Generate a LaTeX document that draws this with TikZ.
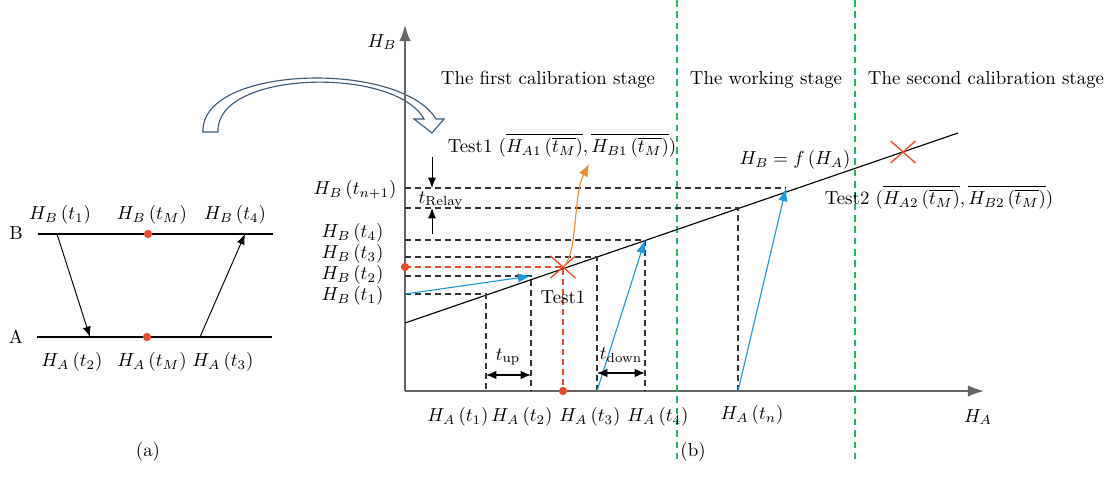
\documentclass[tikz,border=0pt]{standalone}
\usepackage{amsmath, amssymb}
\usepackage{xcolor}
\usetikzlibrary{arrows.meta, shapes.misc}

\definecolor{redpt}{HTML}{EE4B2B}
\definecolor{blueln}{HTML}{1E9AD8}
\definecolor{greenln}{HTML}{22B562}
\definecolor{orangeln}{HTML}{F28A30}
\definecolor{hollow}{HTML}{3B5B78}

\begin{document}
\begin{tikzpicture}[x=0.53pt, y=-0.53pt,
  dashline/.style={dashed, dash pattern=on 3.2pt off 2.1pt, line width=0.55pt, draw=black!80},
  reddash/.style={dashline, draw=redpt},
  stagediv/.style={dash pattern=on 3.5pt off 2.5pt, line width=0.7pt, draw=greenln},
  axis/.style={line width=0.8pt, draw=black!60, -{Latex[length=8.5pt,width=6pt]}},
  blueline/.style={draw=blueln, line width=0.6pt, -{Latex[length=7pt,width=5pt]}},
  blackline/.style={line width=0.5pt, -{Latex[length=5.5pt,width=4.3pt]}},
  timearrow/.style={line width=0.6pt, {Latex[length=5.5pt,width=4.5pt]}-{Latex[length=5.5pt,width=4.5pt]}},
  reddot/.style={circle, fill=redpt, inner sep=0pt, minimum size=4.4pt},
  redcross/.style={cross out, draw=redpt, line width=0.7pt, inner sep=0pt, minimum width=12.5pt, minimum height=11pt}]
\useasboundingbox (0,0) rectangle (1114,494);

% (a) two sensors
\coordinate (b1) at (38,234);
\coordinate (b2) at (273,234);
\coordinate (a1) at (37,337);
\coordinate (a2) at (272,337);
\draw[line width=0.6pt] (b1) -- (b2);
\draw[line width=0.6pt] (a1) -- (a2);
\node (lblB) at (16,233) {B};
\node (lblA) at (16,337) {A};
\node[reddot] (bm) at (148,234) {};
\node[reddot] (am) at (147,337) {};
\coordinate (bs) at (57,234);
\coordinate (ae) at (90,337);
\coordinate (as) at (200,337);
\coordinate (be) at (245,234);
\draw[blackline] (bs) -- (ae);
\draw[blackline] (as) -- (be);
\node (hb1) at (60,215) {$H_B\,(t_1)$};
\node (hbm) at (152,215) {$H_B\,(t_M)$};
\node (hb4) at (235,215) {$H_B\,(t_4)$};
\node (ha2) at (72,362) {$H_A\,(t_2)$};
\node (ham) at (152,362) {$H_A\,(t_M)$};
\node (ha3) at (223,362) {$H_A\,(t_3)$};
\node (capa) at (148,452) {(a)};

% hollow arrow from (a) to (b)
\draw[draw=hollow, fill=white, line width=0.6pt]
  (203,132) .. controls (200,65) and (400,60) .. (436,119) -- (444,119) -- (432,133)
  -- (414,119) -- (424,119) .. controls (395,66) and (215,70) .. (218,132) -- cycle;

% (b) axes
\coordinate (o) at (405,391);
\coordinate (ytip) at (405,25);
\coordinate (xtip) at (984,391);
\draw[axis] (o) -- (ytip);
\draw[axis] (o) -- (xtip);
\node (axb) at (382,42) {$H_B$};
\node (axa) at (978,417) {$H_A$};

% stage borders
\coordinate (g1t) at (677,0);
\coordinate (g1b) at (677,460);
\coordinate (g2t) at (855,0);
\coordinate (g2b) at (855,460);
\draw[stagediv] (g1t) -- (g1b);
\draw[stagediv] (g2t) -- (g2b);
\node (st1) at (548,80) {The first calibration stage};
\node (st2) at (766,80) {The working stage};
\node (st3) at (986,80) {The second calibration stage};

% calibration line
\coordinate (f0) at (405,323);
\coordinate (f1) at (958,133);
\draw[line width=0.6pt] (f0) -- (f1);
\node (fn) at (795,160) {$H_B = f\,(H_A)$};

% measuring points
\coordinate (p1) at (486,294);
\coordinate (p2) at (531,276);
\coordinate (p3) at (597,257);
\coordinate (p4) at (645,240);
\coordinate (pn) at (738,208);
\coordinate (pm) at (786,188);
\coordinate (ptest) at (563,267);
\draw[dashline] (o |- p1) -- (p1) -- (p1 |- o);
\draw[dashline] (o |- p2) -- (p2) -- (p2 |- o);
\draw[dashline] (o |- p3) -- (p3) -- (p3 |- o);
\draw[dashline] (o |- p4) -- (p4) -- (p4 |- o);
\draw[dashline] (o |- pn) -- (pn) -- (pn |- o);
\draw[dashline] (o |- pm) -- (pm);
\draw[reddash] (o |- ptest) -- (ptest) -- (ptest |- o);
\node[reddot] (dy) at (o |- ptest) {};
\node[reddot] (dx) at (ptest |- o) {};

\draw[blueline] (o |- p1) -- (p2);
\draw[blueline] (p3 |- o) -- (p4);
\draw[blueline] (pn |- o) -- (pm);

% tests
\node[redcross] (x1) at (ptest) {};
\node[redcross] (x2) at (903,152) {};
\node (t1) at (563,297) {Test1};
\coordinate (otip) at (589,164);
\draw[orangeln, line width=0.6pt, -{Latex[length=6.5pt,width=5pt]}]
  (ptest) .. controls (578,255) and (573,195) .. (otip);
\node (t1v) at (562,145) {Test1 $(\overline{H_{A1}\,(\overline{t_M})}, \overline{H_{B1}\,(\overline{t_M})})$};
\node (t2v) at (939,197) {Test2 $(\overline{H_{A2}\,(\overline{t_M})}, \overline{H_{B2}\,(\overline{t_M})})$};

% time spans
\coordinate (u1) at (486,375);
\coordinate (u2) at (531,375);
\coordinate (d1) at (597,373);
\coordinate (d2) at (645,373);
\draw[timearrow] (u1) -- (u2);
\draw[timearrow] (d1) -- (d2);
\node (tup) at (508,357) {$t_{\text{up}}$};
\node (tdown) at (621,355) {$t_{\text{down}}$};
\coordinate (r1) at (432,157);
\coordinate (r2) at (432,188);
\coordinate (r3) at (432,234);
\coordinate (r4) at (432,208);
\draw[blackline] (r1) -- (r2);
\draw[blackline] (r3) -- (r4);
\node (trelay) at (441,200) {$t_{\text{Relay}}$};

% axis labels
\node[anchor=east] (hbn) at (403,190) {$H_B\,(t_{n+1})$};
\node[anchor=east] (yb4) at (390,233) {$H_B\,(t_4)$};
\node[anchor=east] (yb3) at (390,254) {$H_B\,(t_3)$};
\node[anchor=east] (yb2) at (390,275) {$H_B\,(t_2)$};
\node[anchor=east] (yb1) at (390,296) {$H_B\,(t_1)$};
\node (xa1) at (458,417) {$H_A\,(t_1)$};
\node (xa2) at (522,417) {$H_A\,(t_2)$};
\node (xa3) at (590,417) {$H_A\,(t_3)$};
\node (xa4) at (658,417) {$H_A\,(t_4)$};
\node (xan) at (752,415) {$H_A\,(t_n)$};
\node (capb) at (693,452) {(b)};
\end{tikzpicture}
\end{document}
